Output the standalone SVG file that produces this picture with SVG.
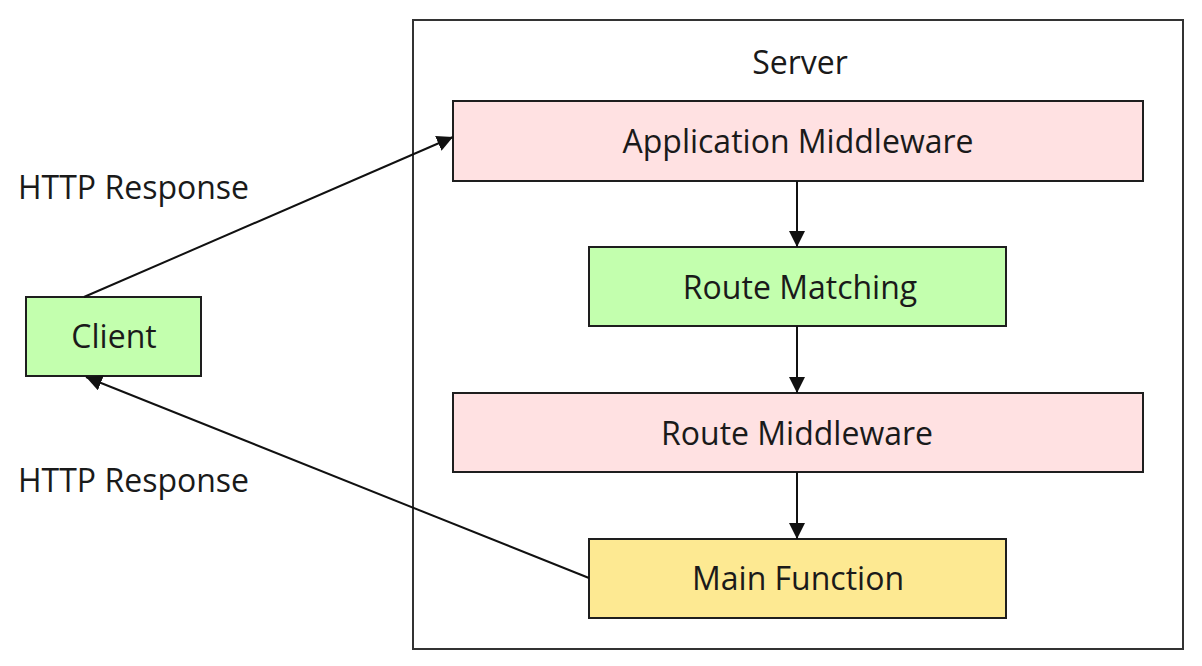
<svg xmlns="http://www.w3.org/2000/svg" width="1202" height="666" viewBox="0 0 1202 666">
<style>
text{font-family:"Open Sans","Liberation Sans",sans-serif;font-size:32px;fill:#1a1a1a;dominant-baseline:central}
.c{text-anchor:middle}
.box{stroke:#1e1e1e;stroke-width:2}
.pink{fill:#ffe1e2}
.green{fill:#c3ffae}
.yellow{fill:#fde992}
.edge{stroke:#111;stroke-width:2;fill:none}
</style>
<defs>
<marker id="ah2" viewBox="0 0 10 10" refX="10" refY="5" markerWidth="16" markerHeight="16" markerUnits="userSpaceOnUse" orient="auto"><path d="M0,0 L10,5 L0,10 z" fill="#111"/></marker>
</defs>
<rect width="1202" height="666" fill="#fff"/>
<g id="server">
<rect x="413" y="20" width="770" height="629" fill="#fff" stroke="#333" stroke-width="2"/>
<text class="c" x="800" y="61">Server</text>
</g>
<g id="app-middleware">
<rect class="box pink" x="453" y="101" width="690" height="80"/>
<text class="c" x="798" y="140">Application Middleware</text>
</g>
<g id="route-matching">
<rect class="box green" x="589" y="247" width="417" height="79"/>
<text class="c" x="800" y="286">Route Matching</text>
</g>
<g id="route-middleware">
<rect class="box pink" x="453" y="393" width="690" height="79"/>
<text class="c" x="797" y="432">Route Middleware</text>
</g>
<g id="main-function">
<rect class="box yellow" x="589" y="539" width="417" height="79"/>
<text class="c" x="798" y="577">Main Function</text>
</g>
<g id="client">
<rect class="box green" x="26" y="297" width="175" height="79"/>
<text class="c" x="114" y="335">Client</text>
</g>
<g id="labels">
<text x="18" y="186">HTTP Response</text>
<text x="18" y="479">HTTP Response</text>
</g>
<g id="connectors">
<line class="edge" x1="797" y1="181" x2="797" y2="247" marker-end="url(#ah2)"/>
<line class="edge" x1="797" y1="326" x2="797" y2="393" marker-end="url(#ah2)"/>
<line class="edge" x1="797" y1="472" x2="797" y2="539" marker-end="url(#ah2)"/>
<line class="edge" x1="84" y1="297" x2="453" y2="137" marker-end="url(#ah2)"/>
<line class="edge" x1="589" y1="578" x2="86" y2="377" marker-end="url(#ah2)"/>
</g>
</svg>
